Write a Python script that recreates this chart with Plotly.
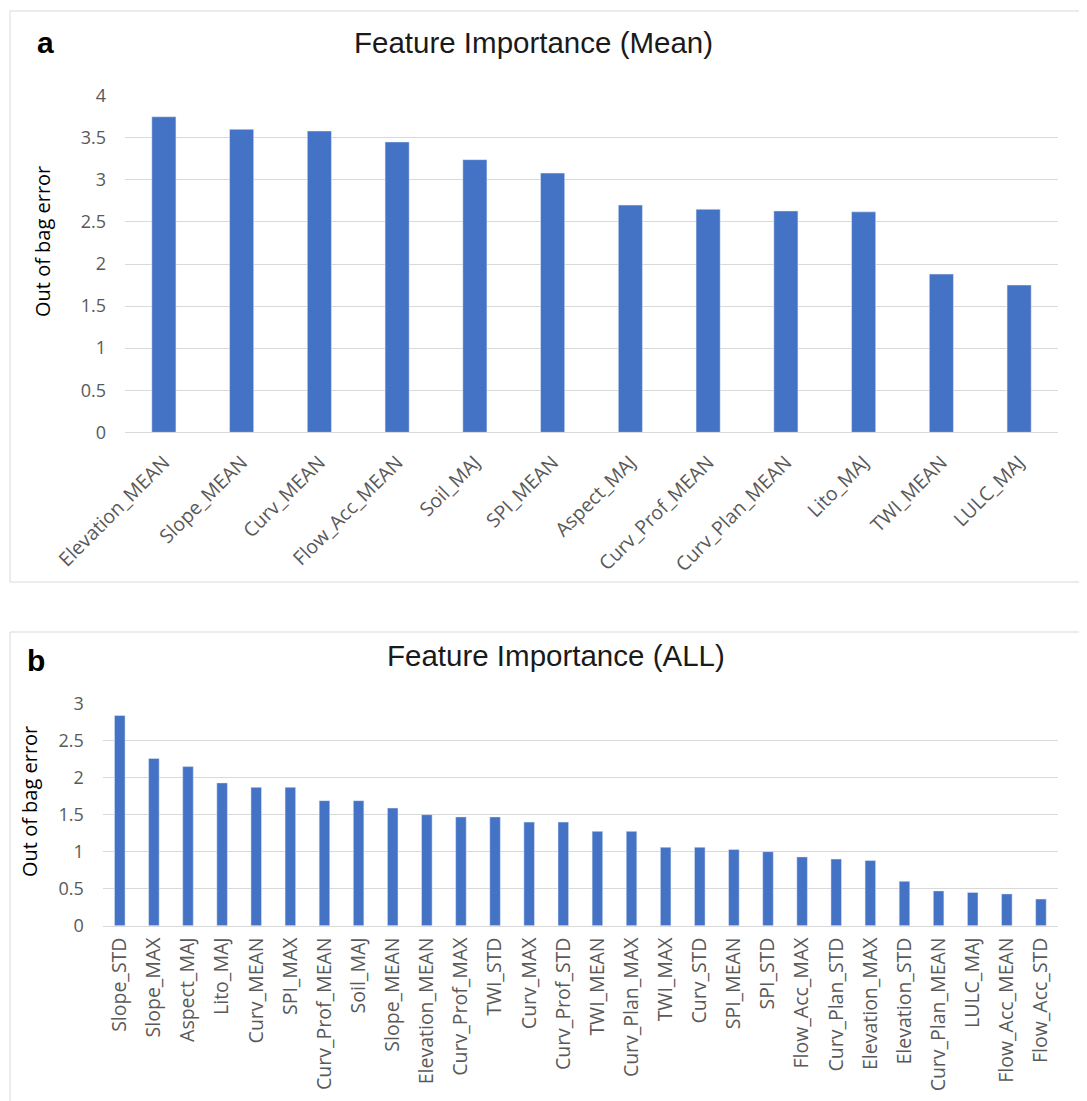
import plotly.graph_objects as go

# ---- data ----
mean_features = ["Elevation_MEAN", "Slope_MEAN", "Curv_MEAN", "Flow_Acc_MEAN", "Soil_MAJ",
                 "SPI_MEAN", "Aspect_MAJ", "Curv_Prof_MEAN", "Curv_Plan_MEAN", "Lito_MAJ",
                 "TWI_MEAN", "LULC_MAJ"]
mean_values = [3.75, 3.60, 3.58, 3.45, 3.24, 3.08, 2.70, 2.65, 2.63, 2.62, 1.88, 1.75]

all_features = ["Slope_STD", "Slope_MAX", "Aspect_MAJ", "Lito_MAJ", "Curv_MEAN", "SPI_MAX",
                "Curv_Prof_MEAN", "Soil_MAJ", "Slope_MEAN", "Elevation_MEAN", "Curv_Prof_MAX",
                "TWI_STD", "Curv_MAX", "Curv_Prof_STD", "TWI_MEAN", "Curv_Plan_MAX", "TWI_MAX",
                "Curv_STD", "SPI_MEAN", "SPI_STD", "Flow_Acc_MAX", "Curv_Plan_STD",
                "Elevation_MAX", "Elevation_STD", "Curv_Plan_MEAN", "LULC_MAJ",
                "Flow_Acc_MEAN", "Flow_Acc_STD"]
all_values = [2.84, 2.26, 2.15, 1.93, 1.87, 1.87, 1.69, 1.69, 1.59, 1.50, 1.47, 1.47, 1.40,
              1.40, 1.275, 1.275, 1.06, 1.06, 1.03, 1.00, 0.93, 0.90, 0.88, 0.60, 0.47,
              0.45, 0.43, 0.36]

ticks_a = [0, 0.5, 1, 1.5, 2, 2.5, 3, 3.5, 4]
ticks_b = [0, 0.5, 1, 1.5, 2, 2.5, 3]

W, H = 1087, 1101
OFF = 8  # page body margin
BAR = "#4472C4"
GRID = "#D9D9D9"
TICKC = "#595959"
TFONT = "Open Sans"

def px(x):
    return (x - OFF) / W

def py(y):
    return 1 - (y - OFF) / H

fig = go.Figure()
fig.add_trace(go.Bar(x=mean_features, y=mean_values, marker_color=BAR,
                     xaxis="x", yaxis="y", showlegend=False))
fig.add_trace(go.Bar(x=all_features, y=all_values, marker_color=BAR,
                     xaxis="x2", yaxis="y2", showlegend=False))

common_x = dict(showgrid=False, showline=True, linecolor=GRID, linewidth=1, ticks="",
                tickfont=dict(family=TFONT, size=19.5, color=TICKC), fixedrange=True,
                automargin=False)
common_y = dict(showgrid=True, gridcolor=GRID, gridwidth=1, zeroline=False, showline=False,
                ticks="", tickfont=dict(family=TFONT, size=18, color=TICKC),
                ticklabelstandoff=18, automargin=False, fixedrange=True)

fig.update_layout(
    width=W, height=H, autosize=False,
    margin=dict(l=0, r=0, t=0, b=0, pad=0),
    paper_bgcolor="white", plot_bgcolor="white",
    bargap=0.69,
    xaxis=dict(domain=[px(125), px(1058)], anchor="y", tickangle=-45,
               ticklabelstandoff=10, **common_x),
    yaxis=dict(domain=[py(432.3), py(95.7)], anchor="x", range=[0, 4],
               tickvals=ticks_a, ticktext=[f"{t:g}" for t in ticks_a], **common_y),
    xaxis2=dict(domain=[px(102.7), px(1058)], anchor="y2", tickangle=-90,
                ticklabelstandoff=3, **common_x),
    yaxis2=dict(domain=[py(925.7), py(703.7)], anchor="x2", range=[0, 3],
                tickvals=ticks_b, ticktext=[f"{t:g}" for t in ticks_b], **common_y),
)

# chart frames
fig.add_shape(type="rect", xref="paper", yref="paper", x0=px(10), x1=px(1110),
              y0=py(582), y1=py(11), line=dict(color=GRID, width=1), layer="below")
fig.add_shape(type="rect", xref="paper", yref="paper", x0=px(10), x1=px(1110),
              y0=py(1125), y1=py(632), line=dict(color=GRID, width=1), layer="below")

# titles and panel letters
fig.add_annotation(text="Feature Importance (Mean)", xref="paper", yref="paper",
                   x=px(533), y=py(42), showarrow=False, xanchor="center", yanchor="middle",
                   font=dict(family="Liberation Sans", size=29.5, color="#1a1a1a"))
fig.add_annotation(text="Feature Importance (ALL)", xref="paper", yref="paper",
                   x=px(556), y=py(655), showarrow=False, xanchor="center", yanchor="middle",
                   font=dict(family="Liberation Sans", size=29.5, color="#1a1a1a"))
fig.add_annotation(text="<b>a</b>", xref="paper", yref="paper",
                   x=px(45), y=py(42), showarrow=False, xanchor="center", yanchor="middle",
                   font=dict(family="Liberation Sans", size=30, color="#000000"))
fig.add_annotation(text="<b>b</b>", xref="paper", yref="paper",
                   x=px(36), y=py(660), showarrow=False, xanchor="center", yanchor="middle",
                   font=dict(family="Liberation Sans", size=30, color="#000000"))

# y-axis titles
fig.add_annotation(text="Out of bag error", xref="paper", yref="paper",
                   x=px(42), y=py(242), showarrow=False, textangle=-90,
                   xanchor="center", yanchor="middle",
                   font=dict(family=TFONT, size=20, color="#000000"))
fig.add_annotation(text="Out of bag error", xref="paper", yref="paper",
                   x=px(29), y=py(802), showarrow=False, textangle=-90,
                   xanchor="center", yanchor="middle",
                   font=dict(family=TFONT, size=20, color="#000000"))

fig.write_html("out.html")
